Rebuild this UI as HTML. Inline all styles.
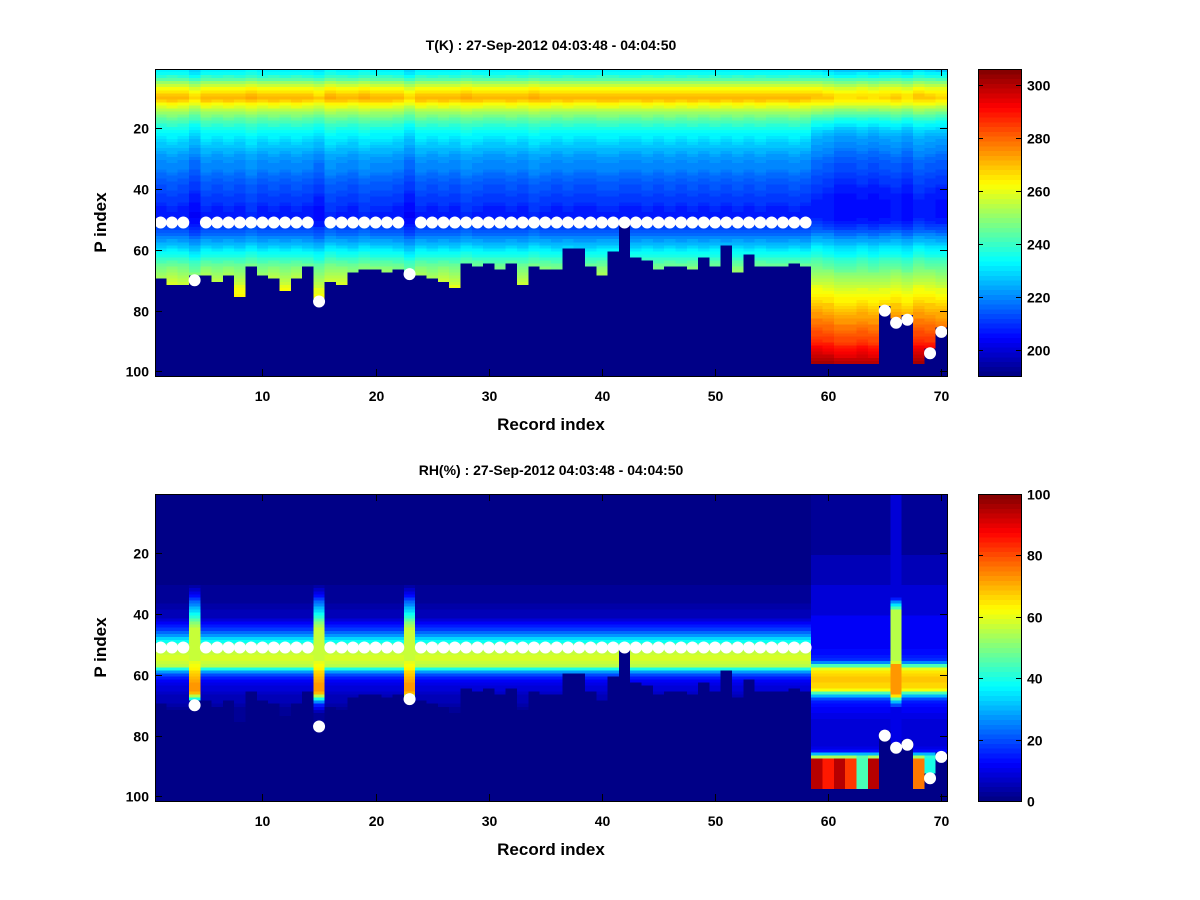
<!DOCTYPE html>
<html><head><meta charset="utf-8"><style>
html,body{margin:0;padding:0;background:#fff;}
svg{display:block;font-family:"Liberation Sans",sans-serif;font-weight:bold;}
</style></head><body>
<svg id="fig" width="1200" height="900" viewBox="0 0 1200 900" xmlns="http://www.w3.org/2000/svg">
<rect x="0" y="0" width="1200" height="900" fill="#fff"/>
<g id="top"></g>
<g id="bot"></g>
</svg>
<script>
const NS="http://www.w3.org/2000/svg";
// ---------- data ----------
const xTicks=[10,20,30,40,50,60,70];
const yTicks=[20,40,60,80,100];
const tTicks=[200,220,240,260,280,300];
const rhTicks=[0,20,40,60,80,100];
const tRange=[190,306];
const rhRange=[0,100];
const cutoff=[70,72,72,69,69,71,69,76,66,69,70,74,70,66,77,71,72,68,67,67,68,67,68,69,70,71,73,65,66,65,67,65,72,66,67,
67,60,60,66,69,61,52,63,64,67,66,66,67,63,66,59,68,62,66,66,66,65,66,98,98,98,98,98,98,79,83,82,98,93,86];
const tMain=[232,234,238,243,250,256,261,265,268,270,267,262,258,254,250,247,244,241,238,236,
234,232,231,229,228,227,225,224,222,221,220,219,219,218,217,216,215,214,213,213,
212,211,210,210,209,208,208,207,207,208,209,210,212,214,216,219,222,225,228,231,
234,236,239,242,245,247,249,251,253,255,257,259,261,262,263,264,265,266,267,268,
268,268,268,268,268,268,268,268,268,268,268,268,268,268,268,268,268,268,268,268,268];
const tRight=[228,232,236,242,248,254,259,263,266,267,264,260,255,250,246,242,238,235,232,229,
227,225,223,222,221,220,219,218,217,216,215,214,214,213,212,211,210,210,209,208,
208,207,207,206,206,206,206,206,206,207,208,210,212,215,218,221,224,227,230,232,
234,236,239,241,243,245,247,249,251,253,255,257,259,260,262,264,265,267,268,270,
272,273,275,276,278,279,281,282,284,285,287,290,292,294,296,298,300,301,301,301,301];
const tOff=[0,1,0,-3,1,0,1,0,2,0,1,0,1,0,-2,2,1,0,2,1,1,0,-3,1,0,1,0,2,1,0,0,1,0,2,1,
0,1,0,0,1,1,0,0,1,0,1,0,1,0,1,0,1,0,1,0,0,1,0,2,1,-1,-1,0,-1,0,1,-1,2,1,0];
const rhMain=[1,1,1,1,1,1,1,1,1,1,1,1,1,1,1,1,1,1,1,1,1,1,1,1,1,1,1,1,1,1,
2,2,2,3,3,3,4,4,5,5,6,9,12,15,18,22,28,33,38,45,
50,55,57,58,58,57,55,40,28,20,15,12,10,9,8,7,6,5,5,4,
3,3,3,3,3,3,3,3,3,3,3,3,3,3,3,3,3,3,3,3,3,3,3,3,3,3,3,3,3,3,3];
const rhStreak=[1,1,1,1,1,1,1,1,1,1,1,1,1,1,1,1,1,1,1,1,1,1,1,1,1,1,1,1,1,1,
4,7,10,14,18,22,26,30,34,38,42,46,50,54,57,57,57,57,57,57,
57,57,57,57,57,60,62,64,66,68,70,71,72,73,73,70,55,40,25,15,
10,6,3,3,3,3,3,3,3,3,3,3,3,3,3,3,3,3,3,3,3,3,3,3,3,3,3,3,3,3,3];
const streakCols=[4,15,23];
const rhRight=[2,2,2,2,2,2,2,2,2,2,2,2,2,2,2,2,2,2,2,2,5,5,5,5,5,6,6,6,6,6,
9,9,9,9,9,9,9,9,9,9,11,11,11,11,11,11,11,11,11,11,
12,13,14,15,17,25,45,60,65,67,68,68,67,66,62,45,30,20,15,13,
12,11,10,10,9,9,8,8,8,8,8,8,9,10,14,30,55,90,90,90,90,90,90,90,90,90,90,90,90,90,90];
const rhStreakRight=[8,8,8,8,8,8,8,8,8,8,8,8,8,8,8,8,8,8,8,8,8,8,8,8,8,8,8,8,8,8,8,8,8,8,
15,25,35,45,55,55,55,55,55,55,55,55,55,55,55,55,55,55,55,55,55,58,72,72,72,72,72,72,72,72,72,72,65,45,30,20,
10,10,10,10,10,10,10,10,10,10,10,10,10,10,10,10,10,10,10,10,10,10,10,10,10,10,10,10,10,10,10];
const rightStart=59;
const rhStreakRightCol=66;
const rhBottom=[95,85,95,82,45,95,0,0,0,75,40,0];
const levelDotCols=[1,2,3,5,6,7,8,9,10,11,12,13,14,16,17,18,19,20,21,22,24,25,26,27,28,29,30,31,32,33,34,35,36,37,38,39,40,41,42,43,44,45,46,47,48,49,50,51,52,53,54,55,56,57,58];
const levelDotRow=51;
const extraDotCols=[4,15,23,65,66,67,69,70];
const extraDotRows=[70,77,68,80,84,83,94,87];
const nCols=70,nRows=101;

function jet(v){v=Math.max(0,Math.min(1,v));const i=Math.min(63,Math.floor(v*64));const u=(i+0.5)/64;
 const c=t=>Math.round(255*Math.max(0,Math.min(1,1.5-Math.abs(4*u-t))));return `rgb(${c(3)},${c(2)},${c(1)})`;}
function mk(tag,attrs,parent){const e=document.createElementNS(NS,tag);for(const k in attrs)e.setAttribute(k,attrs[k]);parent.appendChild(e);return e;}

function tValue(c,r){
 if(r>=cutoff[c-1])return tRange[0];
 const base=c>=rightStart?tRight[r-1]:tMain[r-1];
 return base+tOff[c-1];
}
function rhValue(c,r){
 if(r>=cutoff[c-1])return 0;
 if(c>=rightStart){
  if(c===rhStreakRightCol)return rhStreakRight[r-1];
  const v=rhRight[r-1];
  const b=rhBottom[c-rightStart];
  if(r>=88)return b;
  if(r===87)return Math.min(v,b)*0.8+10;
  return v;
 }
 if(streakCols.includes(c))return rhStreak[r-1];
 return rhMain[r-1];
}

function panel(g,y0,title,valFn,range,cbTicks,prefix){
 const X0=155,X1=947,Y0=y0,Y1=y0+307;
 const sx=v=>X0+(v-0.5)/nCols*(X1-X0);
 const sy=v=>Y0+(v-0.5)/nRows*(Y1-Y0);
 const hm=mk('g',{'shape-rendering':'crispEdges'},g);
 
 
 for(let c=1;c<=nCols;c++){for(let r=1;r<=nRows;r++){
  const v=(valFn(c,r)-range[0])/(range[1]-range[0]);
  const x=sx(c-0.5),y=sy(r-0.5);
  const rc=mk('rect',{x:x.toFixed(2),y:y.toFixed(2),width:(sx(c+0.5)-x+0.4).toFixed(2),height:(sy(r+0.5)-y+0.4).toFixed(2),fill:jet(v)},hm);
  
  
 }}
 const dots=mk('g',{},g);
 
 
 levelDotCols.forEach(c=>{const d=mk('circle',{cx:sx(c),cy:sy(levelDotRow),r:6,fill:'#fff'},dots);
  
  });
 extraDotCols.forEach((c,i)=>{const d=mk('circle',{cx:sx(c),cy:sy(extraDotRows[i]),r:6,fill:'#fff'},dots);
  
  });
 const ax=mk('g',{stroke:'#000','stroke-width':1,fill:'none'},g);
 
 
 mk('rect',{x:X0+0.5,y:Y0+0.5,width:X1-X0,height:Y1-Y0},ax);
 xTicks.forEach(t=>{const x=Math.round(sx(t))+0.5;mk('line',{x1:x,x2:x,y1:Y1,y2:Y1-7},ax);mk('line',{x1:x,x2:x,y1:Y0,y2:Y0+7},ax);
  const tx=mk('text',{x:x,y:Y1+25,'text-anchor':'middle','font-size':14,fill:'#000',stroke:'none'},g);tx.textContent=t;
  
  });
 yTicks.forEach(t=>{const y=Math.round(sy(t))+0.5;mk('line',{x1:X0,x2:X0+7,y1:y,y2:y},ax);mk('line',{x1:X1,x2:X1-7,y1:y,y2:y},ax);
  const tx=mk('text',{x:X0-6,y:y+5,'text-anchor':'end','font-size':14,fill:'#000',stroke:'none'},g);tx.textContent=t;
  
  });
 const xl=mk('text',{x:(X0+X1)/2,y:Y1+54,'text-anchor':'middle','font-size':17},g);xl.textContent='Record index';
 
 
 const yl=mk('text',{x:0,y:0,'text-anchor':'middle','font-size':17,transform:`translate(106,${(Y0+Y1)/2}) rotate(-90)`},g);yl.textContent='P index';
 
 
 const tt=mk('text',{x:(X0+X1)/2,y:Y0-19,'text-anchor':'middle','font-size':14},g);tt.textContent=title;
 
 
 const CX0=978,CX1=1021;
 const cb=mk('g',{'shape-rendering':'crispEdges'},g);
 
 
 for(let i=0;i<64;i++){const ya=Y1-(i+1)/64*(Y1-Y0),yb=Y1-i/64*(Y1-Y0);
  const r=mk('rect',{x:CX0,y:ya.toFixed(2),width:CX1-CX0,height:(yb-ya+0.5).toFixed(2),fill:jet((i+0.5)/64)},cb);
  
  }
 mk('rect',{x:CX0+0.5,y:Y0+0.5,width:CX1-CX0,height:Y1-Y0,fill:'none',stroke:'#000'},cb);
 cbTicks.forEach(t=>{const y=Math.round(Y1-(t-range[0])/(range[1]-range[0])*(Y1-Y0))+0.5;
  mk('line',{x1:CX0,x2:CX0+5,y1:y,y2:y,stroke:'#000'},cb);mk('line',{x1:CX1,x2:CX1-5,y1:y,y2:y,stroke:'#000'},cb);
  const tx=mk('text',{x:CX1+6,y:y+5,'font-size':14},g);tx.textContent=t;
  
  });
}
panel(document.getElementById('top'),69,'T(K) : 27-Sep-2012 04:03:48 - 04:04:50',tValue,tRange,tTicks,'temperature');
panel(document.getElementById('bot'),494,'RH(%) : 27-Sep-2012 04:03:48 - 04:04:50',rhValue,rhRange,rhTicks,'humidity');
</script>
</body></html>
